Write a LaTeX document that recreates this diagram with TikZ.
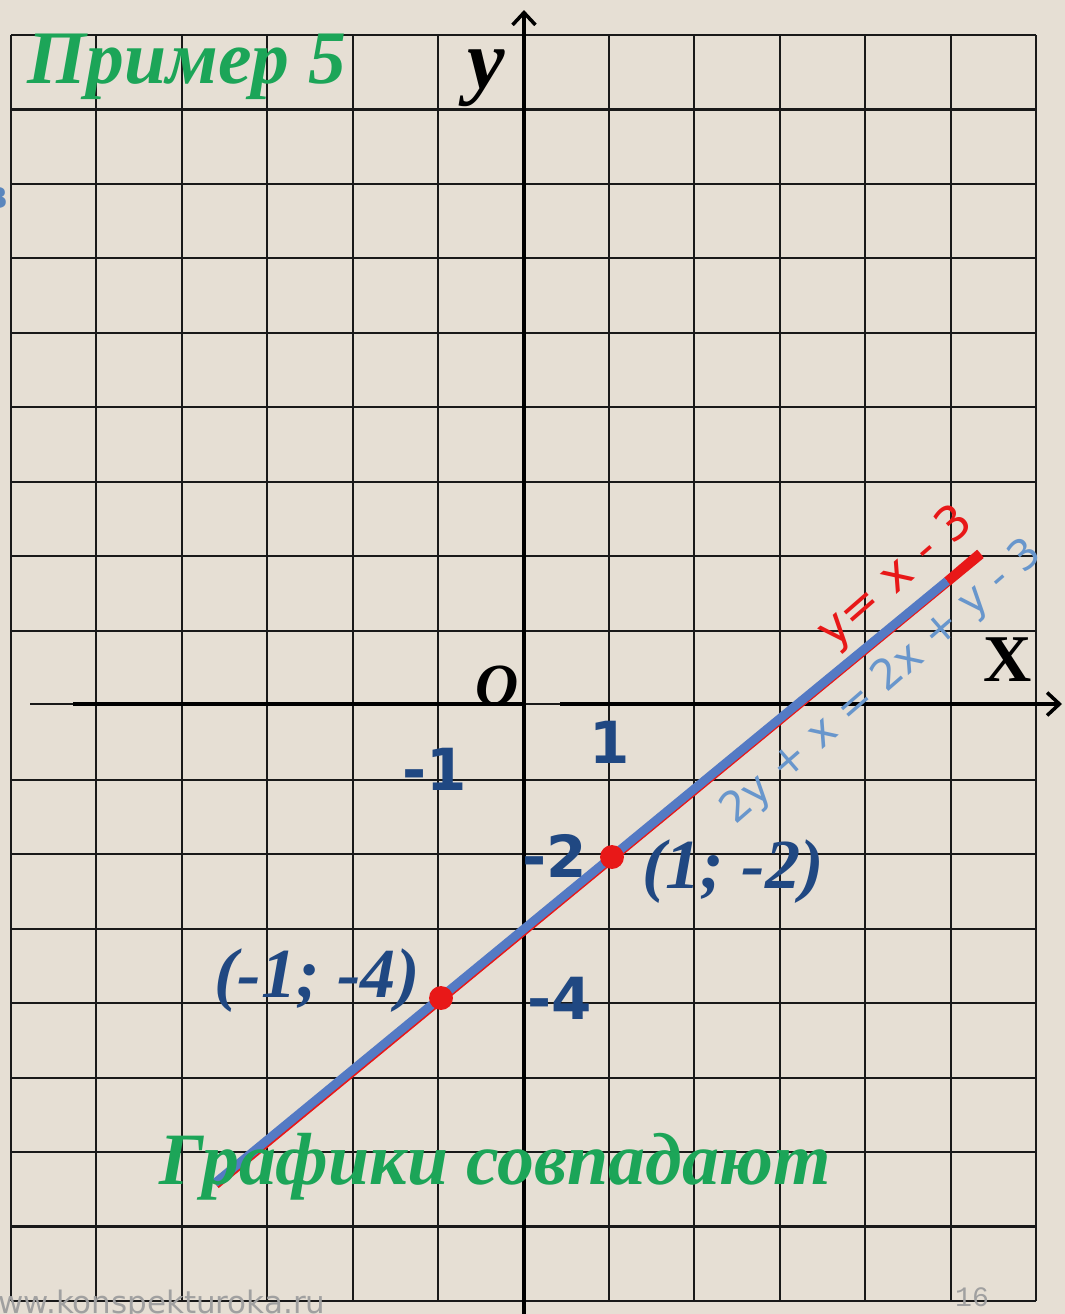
\documentclass[tikz,border=0pt]{standalone}
\usepackage{fontspec}
\setmainfont{Liberation Serif}
\newfontfamily\numfont{DejaVu Sans}
\newfontfamily\wmfont{DejaVu Sans}
\newfontfamily\pgfont{Liberation Mono}
\usetikzlibrary{arrows.meta}
\definecolor{paper}{RGB}{230,223,212}
\definecolor{ttlgreen}{RGB}{28,165,88}
\definecolor{navy}{RGB}{32,72,130}
\definecolor{lineblue}{RGB}{84,122,196}
\definecolor{lblblue}{RGB}{104,150,204}
\definecolor{redline}{RGB}{232,24,24}
\definecolor{wmgray}{RGB}{160,160,160}
\tikzset{
  gridline/.style={line width=0.6pt, black!90},
  axisline/.style={line width=1.3pt, black},
  axtip/.style={-{Straight Barb[length=3.5pt,width=6.5pt,line width=1pt]}},
  greentxt/.style={text=ttlgreen, font=\bfseries\itshape\fontsize{21.5pt}{24pt}\selectfont, inner sep=0pt},
  ticknum/.style={text=navy, font=\numfont\bfseries\fontsize{16.5pt}{19pt}\selectfont, inner sep=0pt, anchor=base},
  ptlbl/.style={text=navy, font=\bfseries\itshape\fontsize{20pt}{23pt}\selectfont, inner sep=0pt, anchor=base},
  eqlbl/.style={font=\numfont\fontsize{12pt}{14pt}\selectfont, inner sep=0pt, rotate=41},
  dotpt/.style={circle, fill=redline, minimum size=6.8pt, inner sep=0pt},
}
\begin{document}
\begin{tikzpicture}[x=0.01cm,y=-0.01cm]
\fill[paper] (0,0) rectangle (1065,1314);
\useasboundingbox (0,0) rectangle (1065,1314);
% grid
\foreach \i in {0,...,12} {
  \pgfmathsetmacro\xx{11+\i*85.42}
  \draw[gridline] (\xx,35) -- (\xx,1301);
}
\foreach \j in {0,...,8,10,11,...,17} {
  \pgfmathsetmacro\yy{35+\j*74.47}
  \draw[gridline] (11,\yy) -- (1036,\yy);
}
% axes
\coordinate (xa0) at (30,704);
\coordinate (xa1) at (73,704);
\coordinate (xa2) at (524,704);
\coordinate (xa3) at (560,704);
\coordinate (xa4) at (1062,704);
\coordinate (ya0) at (524,1314);
\coordinate (ya1) at (524,10);
\draw[gridline] (xa0) -- (xa1);
\draw[axisline] (xa1) -- (xa2);
\draw[gridline] (xa2) -- (xa3);
\draw[axisline,axtip] (xa3) -- (xa4);
\draw[axisline,axtip] (ya0) -- (ya1);
% axis labels
\node[font=\bfseries\itshape\fontsize{24pt}{28pt}\selectfont, inner sep=0pt, anchor=base] (ylab) at (486,88) {y};
\node[font=\bfseries\fontsize{19pt}{22pt}\selectfont, inner sep=0pt, anchor=base] (xlab) at (1008,681) {X};
\node[font=\bfseries\itshape\fontsize{17pt}{20pt}\selectfont, inner sep=0pt, anchor=base] (olab) at (497,705) {O};
% tick numbers
\node[ticknum] (n1) at (610,763) {1};
\node[ticknum] (nm1) at (435,790) {-1};
\node[ticknum] (nm2) at (555,877) {-2};
\node[ticknum] (nm4) at (560,1019) {-4};
% graph lines
\coordinate (la) at (215,1183);
\coordinate (lb) at (980,553);
\coordinate (lc) at (947,581);
\draw[redline, line width=1.5pt] ([shift={(2,3)}]la) -- ([shift={(2,3)}]lb);
\draw[redline, line width=2.5pt] (lc) -- (lb);
\draw[lineblue, line width=2.5pt] (la) -- (lc);
% points
\node[dotpt] (p1) at (612,857) {};
\node[dotpt] (p2) at (441,998) {};
\node[ptlbl] (p1l) at (733,888) {(1; -2)};
\node[ptlbl] (p2l) at (317,997) {(-1; -4)};
% equation labels
\node[eqlbl, text=redline, font=\numfont\fontsize{13.5pt}{15pt}\selectfont] (eq1) at (896,578) {y= x - 3};
\node[eqlbl, text=lblblue] (eq2) at (882,683) {2y + x = 2x + y - 3};
% titles
\node[greentxt, anchor=base] (title) at (187,83) {Пример 5};
\node[greentxt, anchor=base, font=\bfseries\itshape\fontsize{21pt}{24pt}\selectfont] (concl) at (495,1184) {Графики совпадают};
% watermark and page number
\node[text=wmgray, font=\wmfont\fontsize{8.8pt}{11pt}\selectfont, inner sep=0pt, anchor=base east] (wm) at (326,1313) {www.konspekturoka.ru};
\node[text=wmgray, font=\pgfont\fontsize{8pt}{10pt}\selectfont, inner sep=0pt, anchor=base] (pg) at (972,1306) {16};
\node[text=lblblue!80!navy, font=\numfont\bfseries\fontsize{11pt}{13pt}\selectfont, inner sep=0pt, anchor=base east] (frag) at (9,208) {в};
\end{tikzpicture}
\end{document}
